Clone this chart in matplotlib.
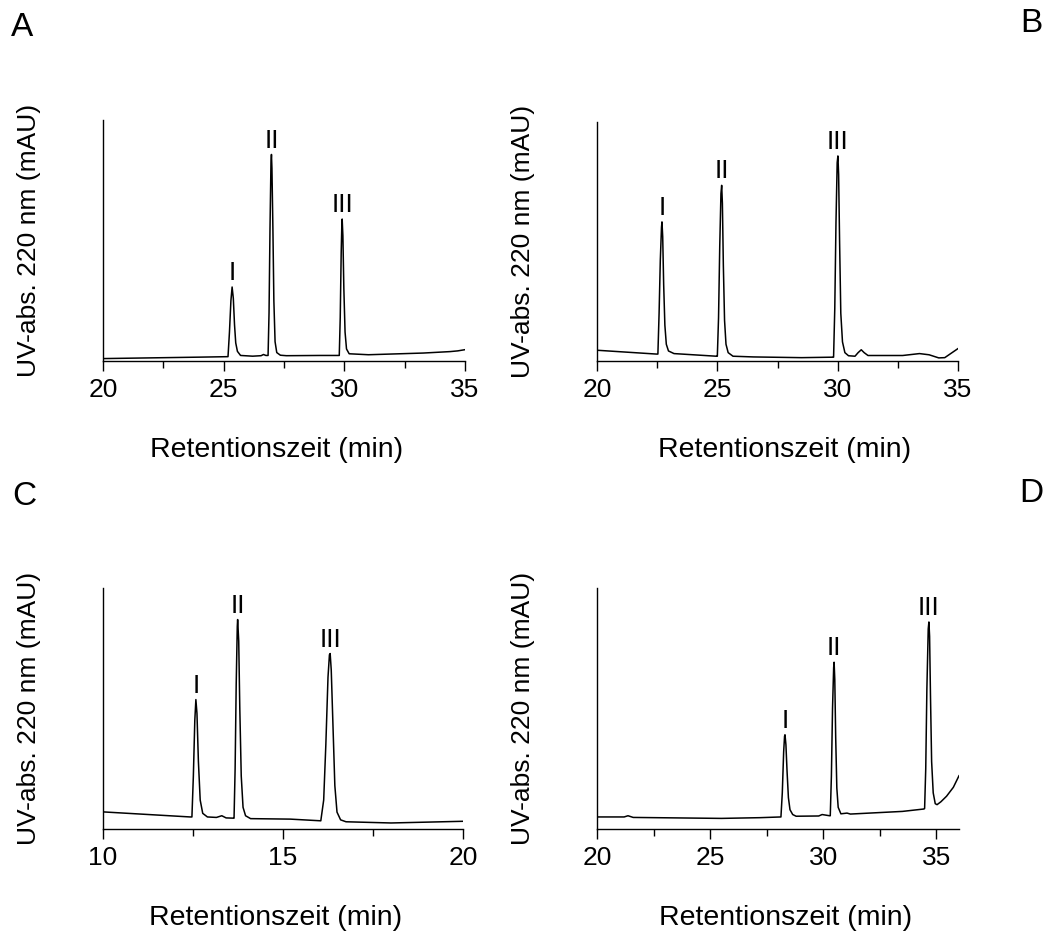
import numpy as np
import matplotlib
matplotlib.use("Agg")
import matplotlib.pyplot as plt
from matplotlib.ticker import MultipleLocator

plt.rcParams['font.family'] = ['Liberation Sans', 'DejaVu Sans']

# chromatogram traces (time in min, signal in arbitrary units 0-100)
a_t = [20.0, 22.0, 24.0, 25.18, 25.24, 25.30, 25.35, 25.40, 25.45, 25.50, 25.57, 25.70,
       26.20, 26.55, 26.65, 26.75, 26.84, 26.88, 26.92, 26.96, 26.98, 27.00, 27.04, 27.08,
       27.13, 27.20, 27.35, 27.60, 29.00, 29.79, 29.83, 29.87, 29.90, 29.91, 29.94, 29.98,
       30.03, 30.09, 30.20, 31.00, 33.27, 34.38, 34.70, 35.0]
a_y = [1.0, 1.3, 1.6, 1.8, 12, 25, 30.7, 26, 15, 7.5, 4.0, 2.3,
       2.0, 2.2, 2.7, 2.3, 2.3, 20, 55, 82, 85.7, 80, 55, 25,
       8, 3.5, 2.4, 2.2, 2.3, 2.3, 18, 45, 58, 58.9, 52, 30,
       12, 5, 3.0, 2.6, 3.3, 3.9, 4.2, 4.7]

b_t = [20.0, 22.47, 22.53, 22.58, 22.63, 22.68, 22.70, 22.73, 22.77, 22.82, 22.88, 22.97,
       23.20, 24.00, 24.96, 25.00, 25.05, 25.10, 25.15, 25.18, 25.21, 25.25, 25.30, 25.36,
       25.45, 25.65, 26.50, 28.50, 29.80, 29.83, 29.88, 29.93, 29.98, 30.01, 30.04, 30.08,
       30.13, 30.20, 30.30, 30.45, 30.72, 30.85, 30.98, 31.10, 31.26, 32.70, 33.40, 33.80,
       34.20, 34.45, 35.0]
b_y = [4.5, 2.9, 2.9, 20, 42, 56, 58.2, 52, 32, 15, 7, 4.2,
       3.1, 2.6, 2.0, 2.0, 18, 48, 70, 73.5, 66, 40, 17, 7,
       3.5, 2.0, 1.7, 1.4, 1.6, 1.6, 22, 58, 83, 85.8, 78, 50,
       20, 8, 3.5, 2.2, 2.0, 3.5, 4.7, 3.5, 2.3, 2.3, 3.1, 2.6,
       1.3, 1.4, 5.2]

c_t = [10.0, 12.42, 12.47, 12.51, 12.55, 12.58, 12.61, 12.65, 12.70, 12.77, 12.90, 13.15,
       13.30, 13.42, 13.62, 13.64, 13.67, 13.70, 13.73, 13.74, 13.77, 13.80, 13.84, 13.89,
       13.96, 14.10, 15.20, 16.05, 16.13, 16.19, 16.25, 16.29, 16.31, 16.34, 16.39, 16.44,
       16.50, 16.60, 16.75, 18.00, 20.0]
c_y = [7.1, 5.0, 5.0, 22, 45, 53.7, 48, 28, 12, 6.5, 5.0, 4.8,
       5.5, 4.6, 4.5, 4.5, 25, 60, 84, 86.9, 78, 50, 22, 9,
       5.5, 4.3, 4.1, 3.4, 12, 35, 63, 72.3, 72.8, 66, 42, 18,
       7, 3.8, 3.0, 2.5, 3.2]

d_t = [20.0, 21.20, 21.37, 21.60, 25.50, 27.20, 28.13, 28.19, 28.25, 28.29, 28.31, 28.35,
       28.40, 28.46, 28.53, 28.65, 28.80, 29.80, 29.95, 30.28, 30.31, 30.36, 30.41, 30.46,
       30.48, 30.51, 30.55, 30.60, 30.66, 30.78, 31.05, 31.20, 33.50, 34.45, 34.48, 34.53,
       34.58, 34.64, 34.67, 34.70, 34.74, 34.79, 34.86, 34.95, 35.03, 35.20, 35.45, 35.75,
       36.0]
d_y = [5.0, 5.0, 5.5, 4.8, 4.4, 4.7, 5.0, 15, 32, 38.5, 39.1, 35,
       24, 13, 8, 6, 5.3, 5.4, 6.0, 5.5, 5.5, 22, 50, 67,
       69.2, 62, 38, 17, 9, 6.3, 6.6, 6.2, 7.3, 8.3, 8.5, 25,
       58, 83, 85.9, 80, 55, 28, 15, 10.5, 10.1, 11.3, 13.6, 17.3,
       22.1]

peak_names = ['I', 'II', 'III']
a_peak_t = [25.35, 26.98, 29.91]
a_peak_h = [30.7, 85.7, 58.9]
b_peak_t = [22.70, 25.18, 30.01]
b_peak_h = [58.2, 73.5, 85.8]
c_peak_t = [12.58, 13.74, 16.31]
c_peak_h = [53.7, 86.9, 72.8]
d_peak_t = [28.31, 30.48, 34.67]
d_peak_h = [39.1, 69.2, 85.9]

xlims = {'A': (20, 35), 'B': (20, 35), 'C': (10, 20), 'D': (20, 36)}

W, H = 1045, 935
fig = plt.figure(figsize=(W / 100, H / 100), dpi=100)

# axes boxes in pixels: left, right, top, bottom
boxes = {'A': (103, 465, 120, 361),
         'B': (597, 958, 122, 361),
         'C': (103, 463, 588, 829),
         'D': (597, 959, 588, 829)}

panels = {'A': (a_t, a_y, a_peak_t, a_peak_h),
          'B': (b_t, b_y, b_peak_t, b_peak_h),
          'C': (c_t, c_y, c_peak_t, c_peak_h),
          'D': (d_t, d_y, d_peak_t, d_peak_h)}

xlabel_x = {'A': 0.48, 'B': 0.52, 'C': 0.48, 'D': 0.52}

for key in ['A', 'B', 'C', 'D']:
    l, r, t, b = boxes[key]
    ax = fig.add_axes([l / W, 1 - b / H, (r - l) / W, (b - t) / H])
    tt, yy, pt, ph = panels[key]
    ax.plot(tt, yy, color='black', lw=1.1)
    for name, x0, h0 in zip(peak_names, pt, ph):
        ax.annotate(name, (x0, h0), xytext=(0, 5), textcoords='offset points',
                    ha='center', va='baseline', fontsize=19)
    ax.set_xlim(*xlims[key])
    ax.set_ylim(0, 100)
    ax.xaxis.set_major_locator(MultipleLocator(5))
    ax.xaxis.set_minor_locator(MultipleLocator(2.5))
    ax.set_yticks([])
    for s in ['top', 'right']:
        ax.spines[s].set_visible(False)
    for s in ['left', 'bottom']:
        ax.spines[s].set_linewidth(1.0)
    ax.tick_params(axis='x', which='major', direction='out', length=7, width=1,
                   labelsize=19, pad=5)
    ax.tick_params(axis='x', which='minor', direction='out', length=5, width=1)
    ax.set_xlabel('Retentionszeit (min)', fontsize=20.5)
    ax.xaxis.set_label_coords(xlabel_x[key], -76 / (b - t))
    ax.set_ylabel('UV-abs. 220 nm (mAU)', fontsize=19)
    ax.yaxis.set_label_coords(-62 / (r - l), 0.5)

fig.text(22 / W, 1 - 27 / H, 'A', fontsize=24, ha='center', va='center')
fig.text(1031 / W, 1 - 24 / H, 'B', fontsize=24, ha='center', va='center')
fig.text(24 / W, 1 - 496 / H, 'C', fontsize=24, ha='center', va='center')
fig.text(1031 / W, 1 - 494 / H, 'D', fontsize=24, ha='center', va='center')

fig.savefig('out.png', dpi=100)
